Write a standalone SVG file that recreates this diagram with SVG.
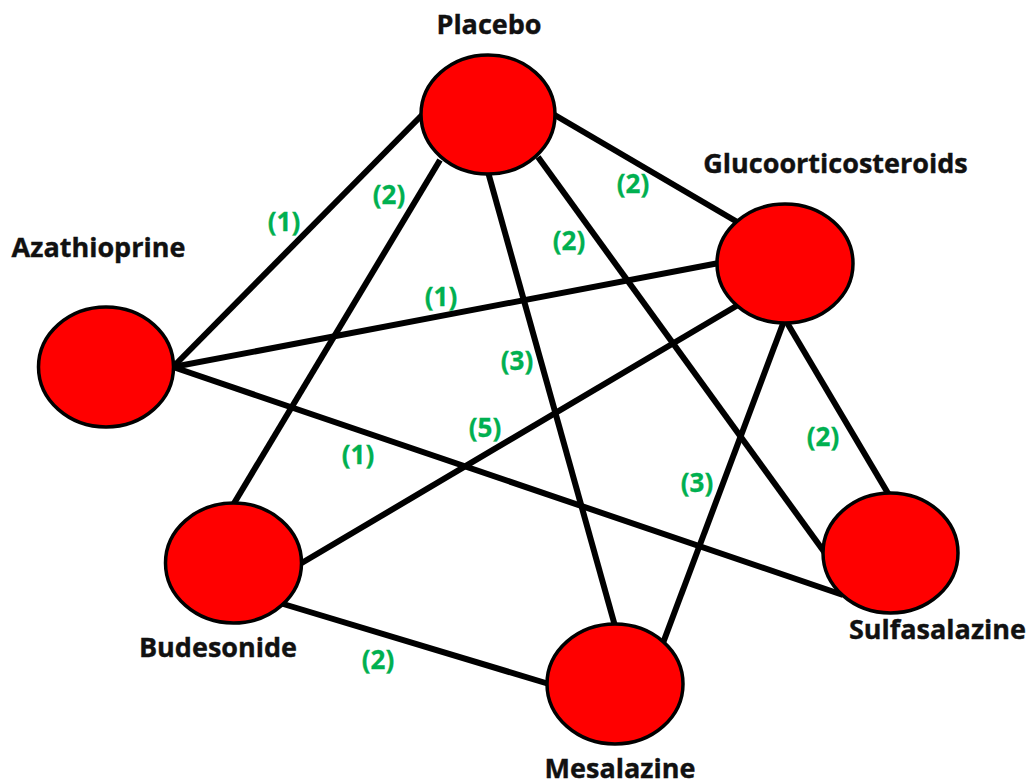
<svg xmlns="http://www.w3.org/2000/svg" width="1032" height="782" viewBox="0 0 1032 782">
<style>
.edge{stroke:#000;stroke-width:6;stroke-linecap:butt;fill:none}
.node{fill:#FF0000;stroke:#000;stroke-width:3.5}
.name{font-family:"Open Sans","DejaVu Sans",sans-serif;font-weight:bold;font-size:27px;fill:#111;text-anchor:middle;stroke:#111;stroke-width:0.4}
.cnt{font-family:"Open Sans","DejaVu Sans",sans-serif;font-weight:bold;font-size:26px;fill:#00B050;text-anchor:middle;stroke:#00B050;stroke-width:0.3}
</style>
<rect width="1032" height="782" fill="#fff"/>
<g id="connectors">
<line class="edge" x1="173" y1="367" x2="423" y2="114"/>
<line class="edge" x1="440" y1="160" x2="233" y2="505"/>
<line class="edge" x1="553" y1="114" x2="739" y2="223"/>
<line class="edge" x1="538" y1="157" x2="825" y2="553"/>
<line class="edge" x1="488" y1="172" x2="615" y2="626"/>
<line class="edge" x1="173" y1="367" x2="719" y2="263"/>
<line class="edge" x1="173" y1="367" x2="843" y2="595"/>
<line class="edge" x1="738" y1="305" x2="300" y2="564"/>
<line class="edge" x1="784" y1="321" x2="663" y2="643"/>
<line class="edge" x1="786" y1="321" x2="889" y2="495"/>
<line class="edge" x1="280" y1="603" x2="549" y2="684"/>
<text class="cnt" x="284" y="231">(1)</text>
<text class="cnt" x="389" y="204">(2)</text>
<text class="cnt" x="633" y="193">(2)</text>
<text class="cnt" x="569" y="250">(2)</text>
<text class="cnt" x="517" y="370">(3)</text>
<text class="cnt" x="441" y="306">(1)</text>
<text class="cnt" x="358" y="464">(1)</text>
<text class="cnt" x="485" y="437">(5)</text>
<text class="cnt" x="697" y="492">(3)</text>
<text class="cnt" x="823" y="446">(2)</text>
<text class="cnt" x="378" y="669">(2)</text>
</g>
<g id="placebo">
<ellipse class="node" cx="488" cy="114.5" rx="67" ry="59.5"/>
<text class="name" x="489" y="34">Placebo</text>
</g>
<g id="glucoorticosteroids">
<ellipse class="node" cx="785" cy="263.5" rx="68" ry="59.5"/>
<text class="name" x="835.5" y="173">Glucoorticosteroids</text>
</g>
<g id="azathioprine">
<ellipse class="node" cx="106" cy="367" rx="67.5" ry="60"/>
<text class="name" x="98.5" y="257">Azathioprine</text>
</g>
<g id="budesonide">
<ellipse class="node" cx="233.5" cy="563" rx="68" ry="60"/>
<text class="name" x="218" y="657">Budesonide</text>
</g>
<g id="mesalazine">
<ellipse class="node" cx="615" cy="684" rx="68" ry="60"/>
<text class="name" x="620" y="778">Mesalazine</text>
</g>
<g id="sulfasalazine">
<ellipse class="node" cx="890.5" cy="553" rx="67.5" ry="60"/>
<text class="name" x="937.5" y="639">Sulfasalazine</text>
</g>
</svg>
